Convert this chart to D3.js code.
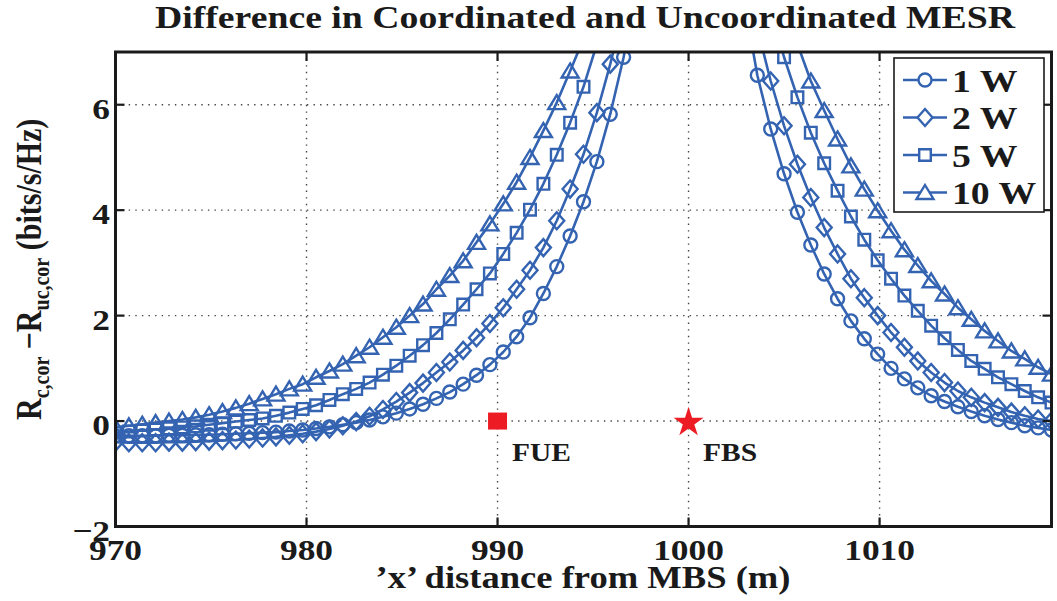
<!DOCTYPE html>
<html>
<head>
<meta charset="utf-8">
<script src="https://cdn.jsdelivr.net/npm/d3@7/dist/d3.min.js"></script>
<style>
  html, body { margin: 0; padding: 0; background: #fff; }
  svg { display: block; }
  text { font-family: "Liberation Serif", "Times New Roman", serif; font-weight: bold; fill: #1a1a1a; }
</style>
</head>
<body>
<svg id="chart" width="1057" height="601"></svg>
<script>
// Distance of the user along x from the macro base station (m): 970:0.7:1019
const distance = d3.range(71).map(i => +(970 + 0.7 * i).toFixed(1));

// Rate difference R_c,cor - R_uc,cor (bits/s/Hz) for each femto transmit power
const power1W = [
  -0.28, -0.28, -0.28, -0.28, -0.27, -0.27, -0.26, -0.26, -0.25, -0.24,
  -0.23, -0.22, -0.21, -0.19, -0.17, -0.14, -0.11, -0.07, -0.03, 0.02,
  0.08, 0.15, 0.23, 0.32, 0.43, 0.55, 0.70, 0.87, 1.07, 1.31,
  1.60, 1.96, 2.42, 2.93, 3.51, 4.16, 4.92, 5.82, 6.90,
  8.2, 9.8, 11.6, 13.5, 15.0, 14.5, 12.5, 10.2, 8.0,
  6.56, 5.54, 4.69, 3.96, 3.34, 2.79, 2.32, 1.90, 1.56, 1.27,
  1.00, 0.80, 0.63, 0.48, 0.37, 0.27, 0.18, 0.10, 0.03, -0.03,
  -0.09, -0.13, -0.17
];
const power2W = [
  -0.40, -0.41, -0.41, -0.41, -0.40, -0.40, -0.39, -0.38, -0.37, -0.36,
  -0.34, -0.32, -0.30, -0.27, -0.24, -0.20, -0.15, -0.09, -0.01, 0.09,
  0.22, 0.37, 0.54, 0.72, 0.92, 1.12, 1.34, 1.58, 1.85, 2.15,
  2.50, 2.86, 3.29, 3.80, 4.40, 5.06, 5.85, 6.77,
  7.8, 9.0, 10.5, 12.2, 13.8, 14.5, 13.2, 11.4, 9.8, 8.5, 7.45,
  6.45, 5.60, 4.87, 4.24, 3.67, 3.17, 2.70, 2.34, 2.00, 1.68,
  1.40, 1.14, 0.92, 0.73, 0.57, 0.45, 0.35, 0.26, 0.17, 0.10,
  0.04, 0.00
];
const power5W = [
  -0.22, -0.20, -0.18, -0.16, -0.14, -0.12, -0.10, -0.07, -0.04, -0.01,
  0.02, 0.05, 0.10, 0.16, 0.23, 0.30, 0.40, 0.51, 0.61, 0.73,
  0.88, 1.05, 1.24, 1.44, 1.67, 1.93, 2.21, 2.50, 2.80, 3.17,
  3.57, 4.01, 4.50, 5.05, 5.66, 6.34,
  7.15, 8.1, 9.2, 10.5, 12.0, 13.5, 15.0, 15.5, 14.0, 12.5, 11.2, 9.9, 8.8, 7.8,
  6.90, 6.14, 5.47, 4.89, 4.37, 3.88, 3.44, 3.05, 2.70, 2.38,
  2.09, 1.81, 1.57, 1.35, 1.14, 0.99, 0.83, 0.70, 0.57, 0.45,
  0.35
];
const power10W = [
  -0.12, -0.09, -0.06, -0.03, 0.00, 0.03, 0.07, 0.12, 0.18, 0.25,
  0.33, 0.42, 0.51, 0.61, 0.70, 0.83, 0.95, 1.08, 1.24, 1.40,
  1.59, 1.78, 2.00, 2.22, 2.50, 2.76, 3.04, 3.39, 3.74, 4.12,
  4.53, 5.00, 5.51, 6.04, 6.64,
  7.25, 8.0, 8.9, 9.9, 11.0, 12.3, 13.8, 15.2, 15.6, 14.0, 12.8, 11.6, 10.5, 9.6, 8.7, 7.9, 7.15,
  6.45, 5.89, 5.35, 4.84, 4.40, 3.99, 3.61, 3.25, 2.95, 2.66,
  2.41, 2.15, 1.93, 1.71, 1.52, 1.33, 1.18, 1.02, 0.89
];

const seriesNames = ["1 W", "2 W", "5 W", "10 W"];
const seriesValues = [power1W, power2W, power5W, power10W];
const seriesMarkers = ["circle", "diamond", "square", "triangle"];

const xTicks = [970, 980, 990, 1000, 1010];
const yTicks = [-2, 0, 2, 4, 6];

// Femto user equipment and femto base station locations
const siteNames = ["FUE", "FBS"];
const siteX = [990, 1000];
const siteY = [0, 0];

const titleText = "Difference in Coordinated and Uncoordinated MESR";
const xLabelText = "\u2019x\u2019 distance from MBS (m)";

// ---------------------------------------------------------------------------
const svg = d3.select("#chart");
const W = 1057, H = 601;
const plot = { left: 115.5, right: 1051.5, top: 52, bottom: 526.5 };
const SX = 1.18;          // horizontal glyph stretch of the typeset labels
const blue = "#3463b1";
const red = "#ed1c24";

svg.append("rect").attr("width", W).attr("height", H).attr("fill", "#fff");

const x = d3.scaleLinear().domain([970, 1019]).range([plot.left, plot.right]);
const y = d3.scaleLinear().domain([-2, 7]).range([plot.bottom, plot.top]);

function label(parent, px, py, str, size, anchor) {
  return parent.append("text")
    .attr("transform", `translate(${px},${py}) scale(${SX},1)`)
    .attr("text-anchor", anchor || "middle")
    .attr("font-size", size)
    .text(str);
}

// dotted grid
const grid = svg.append("g").attr("stroke", "#444").attr("stroke-width", 1.4)
  .attr("stroke-dasharray", "1.4,5.2");
grid.selectAll("line.gx").data(xTicks.filter(v => v > 970)).join("line")
  .attr("x1", d => x(d)).attr("x2", d => x(d))
  .attr("y1", plot.top).attr("y2", plot.bottom);
grid.selectAll("line.gy").data(yTicks.filter(v => v > -2)).join("line")
  .attr("y1", d => y(d)).attr("y2", d => y(d))
  .attr("x1", plot.left).attr("x2", plot.right);

// marker shapes
function markerPath(type) {
  switch (type) {
    case "circle": return d3.arc()({ innerRadius: 0, outerRadius: 6.5, startAngle: 0, endAngle: 2 * Math.PI });
    case "diamond": return "M0,-8.5L7.5,0L0,8.5L-7.5,0Z";
    case "square": return "M-5.8,-5.8H5.8V5.8H-5.8Z";
    case "triangle": return "M0,-7.5L8.5,6.5H-8.5Z";
  }
}

svg.append("clipPath").attr("id", "plotClip").append("rect")
  .attr("x", plot.left).attr("y", plot.top)
  .attr("width", plot.right - plot.left).attr("height", plot.bottom - plot.top);

const curves = svg.append("g").attr("clip-path", "url(#plotClip)");
const line = d3.line().x((d, i) => x(distance[i])).y(d => y(d));

seriesValues.forEach((vals, s) => {
  const g = curves.append("g");
  g.append("path").attr("d", line(vals))
    .attr("fill", "none").attr("stroke", blue).attr("stroke-width", 2.6)
    .attr("stroke-linejoin", "round");
  const pts = vals.map((v, i) => ({ x: distance[i], v })).filter(p => p.v <= 7 && p.v >= -2);
  g.selectAll("path.m").data(pts).join("path")
    .attr("transform", p => `translate(${x(p.x)},${y(p.v)})`)
    .attr("d", markerPath(seriesMarkers[s]))
    .attr("fill", "none").attr("stroke", blue).attr("stroke-width", 2.4);
});

// FUE / FBS locations
svg.append("rect")
  .attr("x", x(siteX[0]) - 9.5).attr("y", y(siteY[0]) - 8.5)
  .attr("width", 19).attr("height", 17).attr("fill", red);
svg.append("path")
  .attr("transform", `translate(${x(siteX[1])},${y(siteY[1]) + 1.5})`)
  .attr("d", d3.symbol(d3.symbolStar, 280)()).attr("fill", red);
siteNames.forEach((n, i) => label(svg, x(siteX[i]) + 14.5, y(siteY[i]) + 40, n, 25, "start"));

// axes box and ticks
const axes = svg.append("g").attr("stroke", "#1a1a1a").attr("stroke-width", 2.2);
xTicks.slice(1).forEach(v => {
  axes.append("line").attr("x1", x(v)).attr("x2", x(v)).attr("y1", plot.bottom).attr("y2", plot.bottom - 9);
  axes.append("line").attr("x1", x(v)).attr("x2", x(v)).attr("y1", plot.top).attr("y2", plot.top + 9);
});
yTicks.slice(1).forEach(v => {
  axes.append("line").attr("y1", y(v)).attr("y2", y(v)).attr("x1", plot.left).attr("x2", plot.left + 9);
  axes.append("line").attr("y1", y(v)).attr("y2", y(v)).attr("x1", plot.right).attr("x2", plot.right - 9);
});
svg.append("rect")
  .attr("x", plot.left).attr("y", plot.top)
  .attr("width", plot.right - plot.left).attr("height", plot.bottom - plot.top)
  .attr("fill", "none").attr("stroke", "#1a1a1a").attr("stroke-width", 3);

// tick labels
xTicks.forEach(v => label(svg, x(v), 560, String(v), 30, "middle"));
yTicks.forEach(v => label(svg, 110, y(v) + 14, v < 0 ? "\u2212" + Math.abs(v) : String(v), 30, "end"));

// title and axis labels
label(svg, 585, 28, titleText, 32, "middle");
label(svg, 583, 588, xLabelText, 31, "middle");

const yl = svg.append("text")
  .attr("transform", `translate(41,420) scale(${SX},1) rotate(-90)`)
  .attr("font-size", 30);
yl.append("tspan").text("R");
yl.append("tspan").attr("font-size", 20).attr("dy", 7).text("c,cor");
yl.append("tspan").attr("dy", -7).text(" \u2212R");
yl.append("tspan").attr("font-size", 20).attr("dy", 7).text("uc,cor");
yl.append("tspan").attr("dy", -7).text(" (bits/s/Hz)");

// legend
const leg = svg.append("g");
leg.append("rect").attr("x", 894).attr("y", 58).attr("width", 150).attr("height", 154)
  .attr("fill", "#fff").attr("stroke", "#1a1a1a").attr("stroke-width", 1.6);
const legY = [80, 117.5, 155, 192.5];
seriesNames.forEach((n, i) => {
  leg.append("line").attr("x1", 903).attr("x2", 947).attr("y1", legY[i]).attr("y2", legY[i])
    .attr("stroke", blue).attr("stroke-width", 2.6);
  leg.append("path").attr("transform", `translate(925,${legY[i]})`)
    .attr("d", markerPath(seriesMarkers[i]))
    .attr("fill", "#fff").attr("stroke", blue).attr("stroke-width", 2.4);
  label(leg, 952, legY[i] + 11.5, n, 32, "start");
});
</script>
</body>
</html>
